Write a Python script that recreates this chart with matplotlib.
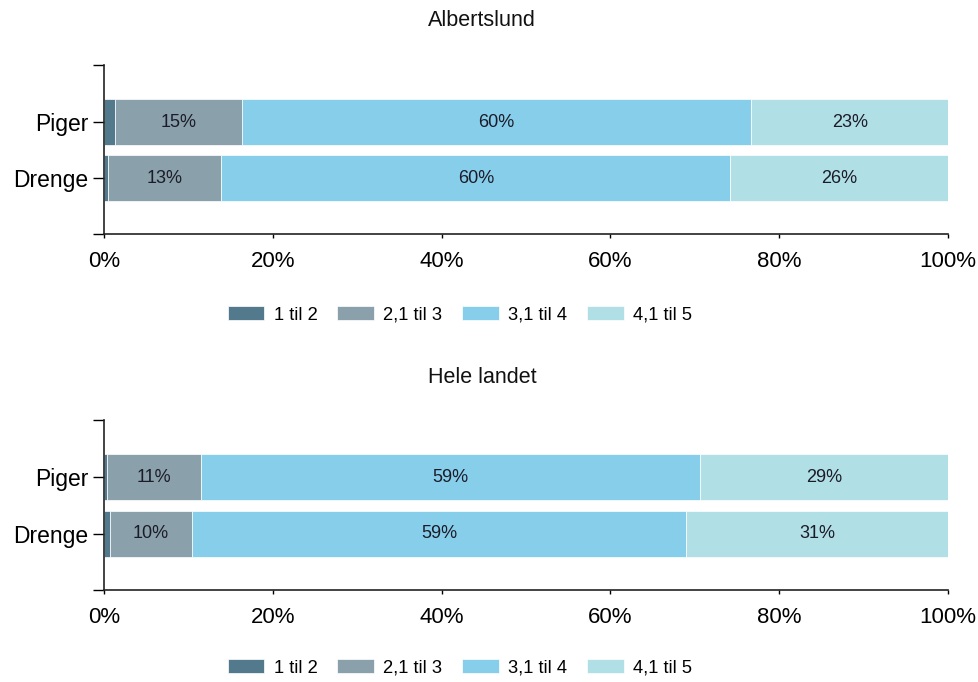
import matplotlib
matplotlib.use("Agg")
import matplotlib.pyplot as plt
import numpy as np

plt.rcParams['font.family'] = ['Liberation Sans', 'DejaVu Sans']

categories = ["Drenge", "Piger"]
series_names = ["1 til 2", "2,1 til 3", "3,1 til 4", "4,1 til 5"]
colors = ["#527a8c", "#8aa1ac", "#87ceeb", "#b0dfe5"]

# values per series, order: Drenge, Piger
albertslund = {
    "1 til 2": [0.5, 1.3],
    "2,1 til 3": [13.4, 15.0],
    "3,1 til 4": [60.3, 60.4],
    "4,1 til 5": [25.8, 23.3],
}
hele_landet = {
    "1 til 2": [0.7, 0.3],
    "2,1 til 3": [9.7, 11.2],
    "3,1 til 4": [58.6, 59.1],
    "4,1 til 5": [31.0, 29.4],
}
titles = ["Albertslund", "Hele landet"]
xticks = [0, 20, 40, 60, 80, 100]
xticklabels = ["0%", "20%", "40%", "60%", "80%", "100%"]

W, H = 979, 682
fig = plt.figure(figsize=(W / 100, H / 100), dpi=100)

def fx(px):
    return px / W

def fy(py):
    return 1 - py / H

axes_px = [(104, 948, 65, 234), (104, 948, 420, 590)]
title_y = [20, 378]
legend_y = [315, 668]

for data, title, (l, r, t, b), ty, ly in zip([albertslund, hele_landet], titles, axes_px, title_y, legend_y):
    ax = fig.add_axes([fx(l), fy(b), fx(r) - fx(l), fy(t) - fy(b)])
    y = np.arange(len(categories))
    left = np.zeros(len(categories))
    handles = []
    for name, col in zip(series_names, colors):
        vals = np.array(data[name])
        bars = ax.barh(y, vals, left=left, height=0.82, color=col,
                       edgecolor="white", linewidth=0.5, label=name)
        handles.append(bars)
        for yi, v, lf in zip(y, vals, left):
            if v >= 5:
                ax.text(lf + v / 2, yi, f"{v:.0f}%", ha="center", va="center",
                        fontsize=13, color="#1c1c28")
        left = left + vals
    ax.set_xlim(0, 100)
    ax.set_ylim(-1.0, 2.02)
    ax.set_yticks(y)
    ax.set_yticklabels(categories, fontsize=16.5)
    ax.set_yticks([-1.0, 2.02], minor=True)
    ax.tick_params(axis="y", which="both", length=8, width=1, pad=3, direction="out")
    ax.set_xticks(xticks)
    ax.set_xticklabels(xticklabels, fontsize=16)
    ax.tick_params(axis="x", length=3, width=1, pad=9)
    for s in ["top", "right"]:
        ax.spines[s].set_visible(False)
    for s in ["left", "bottom"]:
        ax.spines[s].set_linewidth(1.2)
        ax.spines[s].set_color("#222222")
    ax.spines["bottom"].set_bounds(0, 100)
    fig.text(fx(482), fy(ty), title, ha="center", va="center", fontsize=15.5, color="#111111")
    fig.legend(handles=handles, labels=series_names, loc="center",
               bbox_to_anchor=(fx(460), fy(ly)), ncol=4, frameon=False,
               fontsize=13.2, handlelength=2.0, handleheight=0.8,
               handletextpad=0.5, columnspacing=1.1)

fig.savefig("out.png", dpi=100)
